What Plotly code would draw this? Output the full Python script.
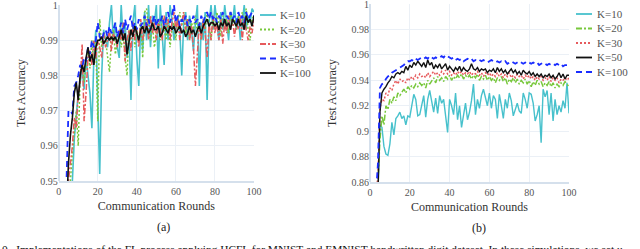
import plotly.graph_objects as go

rounds = list(range(1, 101))
labels = ["K=10", "K=20", "K=30", "K=50", "K=100"]

# ---- (a) MNIST ----
a_k10 = [0.90,0.92,0.93,0.94,0.945,0.948,0.95,0.962,0.968,0.975,0.978,0.982,0.976,0.985,0.98,0.975,0.965,0.985,0.993,0.975,
         0.952,0.98,0.993,0.99,0.988,0.995,1.0,0.99,0.995,0.988,0.985,1.0,0.99,0.995,0.985,0.992,0.973,0.995,1.0,0.985,
         0.977,0.995,0.987,0.998,0.99,1.0,0.988,0.997,0.995,1.0,0.982,1.0,0.99,0.983,0.998,0.99,1.0,0.996,0.99,0.993,
         0.997,0.993,0.98,0.995,0.998,0.99,0.997,0.993,0.987,0.995,1.0,0.977,0.995,0.99,0.998,0.973,0.995,1.0,0.993,1.0,
         0.995,0.99,0.998,0.993,1.0,0.995,0.99,0.998,0.995,1.0,0.993,0.997,0.99,0.995,1.0,0.993,0.997,0.995,0.999,0.998]
a_k20 = [0.90,0.92,0.93,0.94,0.945,0.95,0.958,0.965,0.97,0.96,0.98,0.984,0.978,0.983,0.987,0.982,0.99,0.983,0.99,0.967,
         0.996,0.988,0.992,0.99,0.985,0.981,0.99,0.993,0.986,0.99,0.993,0.988,0.992,0.985,0.98,0.993,0.99,0.995,0.988,0.993,
         0.99,0.995,0.985,0.998,0.999,0.993,0.99,0.995,0.988,0.992,0.995,0.99,0.997,0.993,0.99,0.995,0.988,0.993,0.995,0.99,
         0.996,0.998,0.994,0.998,0.992,0.996,0.99,0.995,0.993,0.997,0.992,0.995,0.99,0.996,0.993,0.998,0.994,0.99,0.996,0.993,
         0.998,0.995,0.991,0.997,0.993,0.996,0.992,0.998,0.994,0.996,0.993,0.997,0.995,0.998,0.994,0.999,0.993,0.99,0.996,0.997]
a_k30 = [0.90,0.92,0.935,0.945,0.95,0.955,0.96,0.968,0.965,0.975,0.978,0.989,0.967,0.975,0.985,0.987,0.983,0.99,0.985,0.99,
         0.988,0.985,0.992,0.988,0.99,0.993,0.987,0.992,0.99,0.988,0.993,0.99,0.995,0.984,0.99,0.993,0.987,0.995,0.99,0.993,
         0.988,0.996,0.99,0.993,0.996,0.99,0.997,0.992,0.995,0.99,0.996,0.993,0.99,0.997,0.993,0.996,0.99,0.995,0.998,0.993,
         0.996,0.99,0.995,0.998,0.993,0.996,0.99,0.994,0.988,0.977,0.985,0.995,0.99,0.996,0.992,0.985,0.995,0.99,0.997,0.992,
         0.995,0.99,0.996,0.989,0.995,0.992,0.997,0.993,0.996,0.991,0.995,0.993,0.997,0.99,0.996,0.993,0.99,0.994,0.992,0.996]
a_k50 = [0.90,0.92,0.935,0.95,0.97,0.97,0.969,0.977,0.978,0.98,0.983,0.982,0.985,0.984,0.988,0.986,0.99,0.988,0.99,0.995,
         0.991,0.99,0.992,0.993,0.991,0.994,0.992,0.993,0.995,0.991,0.993,0.995,0.992,0.996,0.993,0.995,0.997,0.993,0.995,0.993,
         0.996,0.994,0.995,0.997,0.994,0.996,0.993,0.995,0.997,0.994,0.996,0.995,0.997,0.994,0.996,0.998,0.995,0.997,1.0,0.995,
         0.997,0.994,0.996,0.995,0.997,0.994,0.996,0.995,0.997,0.995,0.996,0.994,0.997,0.995,0.997,0.998,0.996,0.998,0.996,0.997,
         0.995,0.997,0.996,0.998,0.995,0.997,0.996,0.998,0.996,0.997,0.995,0.998,0.996,0.997,0.995,0.998,0.996,0.997,0.998,0.997]
a_k100 = [0.90,0.915,0.93,0.945,0.955,0.963,0.968,0.975,0.978,0.973,0.98,0.983,0.981,0.985,0.988,0.984,0.986,0.983,0.988,0.99,
          0.99,0.991,0.989,0.99,0.991,0.99,0.991,0.99,0.991,0.989,0.991,0.993,0.99,0.992,0.986,0.99,0.993,0.991,0.994,0.992,
          0.99,0.993,0.994,0.992,0.994,0.992,0.993,0.995,0.993,0.993,0.994,0.991,0.992,0.994,0.993,0.992,0.994,0.993,0.994,0.992,
          0.993,0.994,0.992,0.993,0.991,0.992,0.994,0.992,0.993,0.991,0.993,0.994,0.992,0.994,0.995,0.996,0.994,0.995,0.995,0.994,
          0.995,0.993,0.995,0.994,0.996,0.994,0.995,0.993,0.996,0.995,0.994,0.996,0.994,0.995,0.993,0.997,0.995,0.996,0.994,0.997]

# ---- (b) EMNIST ----
b_k10 = [0.80,0.82,0.835,0.85,0.905,0.903,0.888,0.882,0.881,0.89,0.907,0.897,0.91,0.912,0.915,0.91,0.912,0.905,0.912,0.911,
         0.92,0.929,0.925,0.912,0.913,0.92,0.928,0.911,0.925,0.932,0.923,0.915,0.926,0.914,0.928,0.922,0.925,0.912,0.899,0.925,
         0.92,0.913,0.93,0.909,0.92,0.903,0.912,0.922,0.909,0.915,0.924,0.937,0.913,0.925,0.918,0.928,0.933,0.925,0.92,0.93,
         0.918,0.928,0.925,0.91,0.929,0.92,0.91,0.925,0.918,0.93,0.924,0.912,0.917,0.922,0.916,0.914,0.93,0.925,0.918,0.93,
         0.929,0.922,0.908,0.913,0.92,0.891,0.933,0.927,0.932,0.913,0.93,0.908,0.925,0.913,0.92,0.915,0.924,0.918,0.938,0.914]
b_k20 = [0.80,0.82,0.84,0.86,0.893,0.912,0.905,0.92,0.917,0.925,0.922,0.927,0.924,0.93,0.928,0.931,0.933,0.93,0.935,0.933,
         0.936,0.934,0.937,0.935,0.938,0.936,0.938,0.934,0.94,0.937,0.94,0.942,0.938,0.943,0.94,0.942,0.939,0.943,0.941,0.944,
         0.94,0.943,0.941,0.944,0.942,0.945,0.941,0.944,0.942,0.944,0.941,0.944,0.942,0.945,0.94,0.943,0.941,0.944,0.94,0.943,
         0.94,0.942,0.938,0.942,0.94,0.943,0.939,0.942,0.937,0.941,0.939,0.942,0.938,0.941,0.937,0.94,0.938,0.941,0.937,0.94,
         0.935,0.939,0.936,0.94,0.937,0.939,0.935,0.938,0.936,0.939,0.935,0.938,0.934,0.937,0.935,0.938,0.936,0.939,0.937,0.935]
b_k30 = [0.80,0.83,0.85,0.865,0.918,0.925,0.924,0.93,0.928,0.934,0.932,0.937,0.94,0.937,0.941,0.939,0.94,0.938,0.942,0.94,
         0.943,0.941,0.944,0.942,0.945,0.943,0.944,0.942,0.946,0.943,0.945,0.947,0.944,0.946,0.944,0.947,0.945,0.948,0.945,0.947,
         0.944,0.946,0.944,0.947,0.945,0.947,0.944,0.946,0.945,0.947,0.944,0.946,0.945,0.947,0.944,0.946,0.943,0.946,0.944,0.946,
         0.943,0.945,0.943,0.946,0.943,0.945,0.942,0.945,0.943,0.946,0.942,0.944,0.942,0.945,0.943,0.944,0.941,0.944,0.942,0.944,
         0.941,0.943,0.94,0.943,0.941,0.943,0.94,0.942,0.94,0.943,0.939,0.942,0.94,0.942,0.938,0.941,0.94,0.942,0.94,0.942]
b_k50 = [0.80,0.82,0.835,0.85,0.915,0.93,0.933,0.935,0.938,0.94,0.943,0.942,0.945,0.946,0.945,0.947,0.946,0.951,0.948,0.952,
         0.95,0.954,0.952,0.955,0.953,0.951,0.954,0.95,0.956,0.952,0.954,0.949,0.952,0.95,0.953,0.949,0.951,0.953,0.948,0.951,
         0.949,0.947,0.95,0.948,0.951,0.947,0.95,0.948,0.947,0.949,0.953,0.949,0.948,0.95,0.947,0.949,0.948,0.949,0.946,0.948,
         0.947,0.949,0.946,0.95,0.947,0.949,0.946,0.948,0.945,0.947,0.949,0.946,0.948,0.945,0.947,0.944,0.948,0.946,0.945,0.947,
         0.944,0.946,0.943,0.945,0.943,0.945,0.942,0.944,0.943,0.945,0.942,0.944,0.941,0.943,0.946,0.942,0.945,0.941,0.944,0.944]
b_k100 = [0.80,0.83,0.85,0.875,0.934,0.937,0.938,0.941,0.943,0.944,0.946,0.947,0.948,0.949,0.95,0.951,0.952,0.954,0.955,0.955,
          0.956,0.955,0.957,0.956,0.957,0.958,0.957,0.958,0.957,0.959,0.958,0.957,0.958,0.957,0.958,0.959,0.958,0.96,0.959,0.958,
          0.957,0.958,0.956,0.957,0.956,0.957,0.955,0.956,0.957,0.956,0.957,0.955,0.956,0.955,0.956,0.955,0.956,0.955,0.954,0.955,
          0.956,0.955,0.954,0.955,0.954,0.955,0.954,0.955,0.953,0.954,0.955,0.954,0.953,0.954,0.955,0.954,0.953,0.954,0.953,0.954,
          0.953,0.954,0.953,0.954,0.952,0.953,0.954,0.953,0.952,0.953,0.952,0.953,0.952,0.953,0.952,0.953,0.951,0.952,0.952,0.952]

a_ticks = [0.95, 0.96, 0.97, 0.98, 0.99, 1.0]
b_ticks = [0.86, 0.88, 0.90, 0.92, 0.94, 0.96, 0.98, 1.0]
x_ticks = [0, 20, 40, 60, 80, 100]

CYAN = "#47c1cc"
GREEN = "#78c83c"
RED = "#e65a5c"
BLUE = "#1a2dff"
BLACK = "#111111"
FONT = "Liberation Serif"

DASH = "6px,4px"
DOT = "2px,2px"
DASHDOT = "6px,2px,2px,2px"

W, H = 640, 249
def py(p):
    return 1 - p / H

fig = go.Figure()

a_series = [a_k10, a_k20, a_k30, a_k50, a_k100]
a_styles = [(CYAN, "solid", 1.6), (GREEN, DOT, 1.5), (RED, DASHDOT, 1.5), (BLUE, DASH, 1.8), (BLACK, "solid", 1.6)]
for name, ys, (c, d, w) in zip(labels, a_series, a_styles):
    fig.add_trace(go.Scatter(x=rounds, y=ys, mode="lines", name=name, showlegend=False,
                             line=dict(color=c, dash=d, width=w), xaxis="x", yaxis="y"))

b_series = [b_k10, b_k20, b_k30, b_k50, b_k100]
b_styles = [(CYAN, "solid", 1.4), (GREEN, DASHDOT, 1.5), (RED, DOT, 1.5), (BLACK, "solid", 1.4), (BLUE, DASH, 1.8)]
for name, ys, (c, d, w) in zip(labels, b_series, b_styles):
    fig.add_trace(go.Scatter(x=rounds, y=ys, mode="lines", name=name, showlegend=False,
                             line=dict(color=c, dash=d, width=w), xaxis="x2", yaxis="y2"))

# legends drawn as sample lines + labels beside each panel
shapes = []
annotations = []
def legend_block(styles, x0, x1, xt, rows):
    for name, (c, d, w), r in zip(labels, styles, rows):
        shapes.append(dict(type="line", xref="paper", yref="paper",
                           x0=x0 / W, x1=x1 / W, y0=py(r), y1=py(r),
                           line=dict(color=c, dash=d, width=max(w, 1.8))))
        annotations.append(dict(text=name, x=xt / W, y=py(r), xref="paper", yref="paper",
                                showarrow=False, xanchor="left", yanchor="middle",
                                font=dict(family=FONT, size=11, color="#555")))

legend_block(a_styles, 260, 276, 278, [15, 29.5, 44, 58.5, 73])
legend_block(b_styles, 576, 592, 595, [14, 28.5, 43, 57.5, 72])

grid = "#ebf0f6"
axline = "#d5e0ec"
tickfont = dict(family=FONT, size=10, color="#555")
titlefont = dict(family=FONT, size=12, color="#333")

common_x = dict(range=[0, 100], tickvals=x_ticks, showgrid=True, gridcolor=grid,
                zeroline=True, zerolinecolor=axline, zerolinewidth=2,
                showline=True, linecolor=axline, linewidth=2, ticks="", automargin=False,
                tickfont=tickfont, ticklabeloverflow="allow",
                title=dict(text="Communication Rounds", font=titlefont, standoff=6))
common_y = dict(showgrid=True, gridcolor=grid, zeroline=False, showline=False, ticks="",
                automargin=False, tickfont=tickfont, ticklabeloverflow="allow",
                title=dict(text="Test Accuracy", font=titlefont, standoff=12))

annotations += [
    dict(text="(a)", x=163 / W, y=py(227), xref="paper", yref="paper", showarrow=False,
         font=dict(family=FONT, size=12, color="#222"), xanchor="center", yanchor="middle"),
    dict(text="(b)", x=479 / W, y=py(228), xref="paper", yref="paper", showarrow=False,
         font=dict(family=FONT, size=12, color="#222"), xanchor="center", yanchor="middle"),
    dict(text="0.  Implementations of the FL process applying HCFL for MNIST and EMNIST handwritten digit dataset. In these simulations, we set u",
         x=0, y=py(249), xref="paper", yref="paper", showarrow=False,
         font=dict(family=FONT, size=11.4, color="#111"), xanchor="left", yanchor="middle"),
]

fig.update_layout(
    width=W, height=H,
    template="plotly_white",
    margin=dict(l=0, r=0, t=0, b=0, autoexpand=False),
    paper_bgcolor="white", plot_bgcolor="white",
    font=dict(family=FONT),
    showlegend=False,
    xaxis=dict(domain=[58.7 / W, 254 / W], anchor="y", **common_x),
    yaxis=dict(domain=[py(181), py(5)], range=[0.95, 1.00002], tickvals=a_ticks, anchor="x", **common_y),
    xaxis2=dict(domain=[370 / W, 569 / W], anchor="y2", **common_x),
    yaxis2=dict(domain=[py(182), py(4)], range=[0.86, 1.00005], tickvals=b_ticks, anchor="x2", **common_y),
    shapes=shapes,
    annotations=annotations,
)

fig.write_html("out.html", config={"displayModeBar": False},
               post_script="document.body.style.margin='0px';document.body.style.overflow='hidden';")
